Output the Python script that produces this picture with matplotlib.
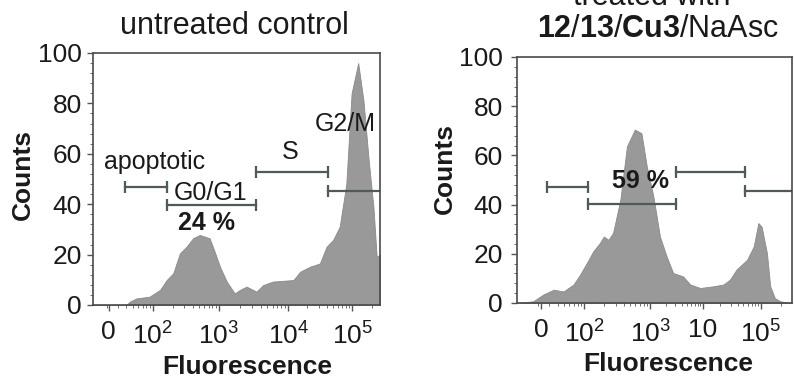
import numpy as np
import matplotlib
matplotlib.use("Agg")
import matplotlib.pyplot as plt
from matplotlib.ticker import FixedLocator, MultipleLocator

plt.rcParams['font.family'] = ['Liberation Sans', 'DejaVu Sans']
plt.rcParams['mathtext.fontset'] = 'custom'
plt.rcParams['mathtext.rm'] = 'Liberation Sans'
plt.rcParams['mathtext.bf'] = 'Liberation Sans:bold'
plt.rcParams['mathtext.it'] = 'Liberation Sans:italic'

# x is in "display decades" of the biexponential axis (10^2 -> 2, 10^3 -> 3 ...)
ctrl_x = [1.095, 1.60, 1.65, 1.75, 1.95, 2.11, 2.21, 2.31, 2.41, 2.51, 2.61, 2.71,
          2.86, 2.91, 3.02, 3.12, 3.24, 3.32, 3.42, 3.57, 3.67, 3.82, 4.13, 4.23,
          4.38, 4.53, 4.63, 4.73, 4.83, 4.93, 5.01, 5.11, 5.19, 5.27, 5.34, 5.39, 5.44]
ctrl_counts = [0, 0, 1.3, 2.6, 3.3, 6, 9.9, 12.6, 20.5, 23.1, 26.5, 27.8,
               26.5, 23.1, 15, 9.3, 4.6, 6, 7.3, 5.3, 7.9, 9.3, 9.9, 13.2,
               15.2, 16.5, 23.1, 25.8, 31.1, 48, 84, 96, 81, 57, 39, 19, 20]

trt_x = [1.035, 1.26, 1.41, 1.57, 1.72, 1.87, 1.97, 2.10, 2.17, 2.27, 2.33, 2.40,
         2.47, 2.58, 2.68, 2.80, 2.90, 2.98, 3.08, 3.18, 3.28, 3.38, 3.53, 3.64,
         3.79, 3.99, 4.14, 4.24, 4.34, 4.50, 4.60, 4.67, 4.72, 4.80, 4.85, 4.92,
         5.00, 5.17]
trt_counts = [0, 0.7, 3.4, 5.4, 4.7, 7.5, 11.5, 17.6, 21, 24.4, 27, 25.7,
              28.5, 42, 63.7, 70.5, 69, 55.6, 43.4, 27, 19, 12.2, 10.8, 7.5,
              6.1, 6.8, 7.5, 9.5, 13.6, 17.6, 23, 32.5, 31, 20.3, 6.8, 2,
              0.7, 0]

# gates: apoptotic, G0/G1, S, G2/M
ctrl_gate_x0 = [1.58, 2.21, 3.56, 4.65]
ctrl_gate_x1 = [2.21, 3.56, 4.65, 5.44]
ctrl_gate_y = [47, 39.5, 52.8, 45.2]
trt_gate_x0 = [1.47, 2.09, 3.42, 4.47]
trt_gate_x1 = [2.09, 3.42, 4.47, 5.18]
trt_gate_y = [47.2, 40.2, 53.1, 45.6]

ctrl_ticks = [1.33, 2, 3, 4.05, 5.02]
ctrl_ticklabels = ['0', '$10^2$', '$10^3$', '$10^4$', '$10^5$']
trt_ticks = [1.38, 2.03, 3.03, 3.83, 4.71]
trt_ticklabels = ['0', '$10^2$', '$10^3$', '10', '$10^5$']

FILL = '#999999'
GATE = '#4f5a5a'
TXT = '#1a1a1a'


def minor_ticks(major, lo, hi):
    out = []
    for a, b in zip(major[1:-1], major[2:]):
        out += [a + (b - a) * np.log10(k) for k in range(2, 10)]
    step = major[2] - major[1]
    b = major[1]
    out += [b - step + step * np.log10(k) for k in range(2, 10)]
    last = major[-1]
    out += [last + step * np.log10(k) for k in range(2, 10)]
    return [t for t in out if lo < t < hi]


def draw_panel(ax, x, counts, gx0, gx1, gy, ticks, ticklabels, xlim):
    ax.fill_between(x, counts, color=FILL, edgecolor='#8a8a8a', lw=0.6)
    for i in range(len(gy)):
        last = (i == len(gy) - 1)
        ax.plot([gx0[i], gx1[i]], [gy[i], gy[i]], color=GATE, lw=1.6,
                marker='|', markersize=8, markeredgewidth=1.6,
                markevery=[0] if last else [0, 1])
    ax.set_xlim(xlim)
    ax.set_ylim(0, 100)
    ax.xaxis.set_major_locator(FixedLocator(ticks))
    ax.set_xticklabels(ticklabels)
    ax.xaxis.set_minor_locator(FixedLocator(minor_ticks(ticks, xlim[0], xlim[1])))
    ax.yaxis.set_major_locator(MultipleLocator(20))
    ax.yaxis.set_minor_locator(MultipleLocator(4))
    ax.tick_params(axis='both', which='major', labelsize=19, colors='#555555',
                   labelcolor=TXT, width=1.0)
    ax.tick_params(axis='x', which='major', length=4, pad=8.5)
    ax.tick_params(axis='x', which='minor', length=2.5, color='#555555')
    ax.tick_params(axis='y', which='major', length=4, pad=4)
    ax.tick_params(axis='y', which='minor', length=2.5, color='#555555')
    # plain labels sit differently from the mathtext ones: line up the digits
    for tick, lab in zip(ax.xaxis.get_major_ticks(), ticklabels):
        if '$' not in lab:
            tick.set_pad(7.0)
    for s in ['left', 'bottom', 'top', 'right']:
        ax.spines[s].set_color('#4a4a4a')
        ax.spines[s].set_linewidth(1.2)
    ax.set_xlabel('Fluorescence', fontsize=19, fontweight='bold', color=TXT)
    ax.set_ylabel('Counts', fontsize=19, fontweight='bold', color=TXT)


fig = plt.figure(figsize=(7.94, 3.78), dpi=100)
ax1 = fig.add_axes([93 / 794, 73 / 378, 287 / 794, 252 / 378])
ax2 = fig.add_axes([517 / 794, 75 / 378, 275 / 794, 246 / 378])

draw_panel(ax1, ctrl_x, ctrl_counts, ctrl_gate_x0, ctrl_gate_x1, ctrl_gate_y,
           ctrl_ticks, ctrl_ticklabels, (1.095, 5.44))
draw_panel(ax2, trt_x, trt_counts, trt_gate_x0, trt_gate_x1, trt_gate_y,
           trt_ticks, trt_ticklabels, (1.015, 5.18))

ax1.xaxis.set_label_coords(0.537, -0.198)
ax1.yaxis.set_label_coords(-0.202, 0.516)
ax2.xaxis.set_label_coords(0.549, -0.198)
ax2.yaxis.set_label_coords(-0.218, 0.545)
ax2.tick_params(axis='y', which='major', pad=6)

# gate labels
ax1.text(2.02, 56.7, 'apoptotic', fontsize=18, color=TXT, ha='center', va='center')
ax1.text(2.88, 44.4, 'G0/G1', fontsize=18, color=TXT, ha='center', va='center')
ax1.text(2.82, 32.5, '24 %', fontsize=18, fontweight='bold', color=TXT,
         ha='center', va='center')
ax1.text(4.08, 60.7, 'S', fontsize=18, color=TXT, ha='center', va='center')
ax1.text(4.91, 72, 'G2/M', fontsize=18, color=TXT, ha='center', va='center')
ax2.text(2.88, 49.4, '59 %', fontsize=18, fontweight='bold', color=TXT,
         ha='center', va='center')

# titles
fig.text(234 / 794, 1 - 34 / 378, 'untreated control', fontsize=22, color=TXT,
         ha='center', va='baseline')
fig.text(652 / 794, 1 - 5 / 378, 'treated with', fontsize=22, color=TXT,
         ha='center', va='baseline')
fig.text(658 / 794, 1 - 37 / 378,
         r'$\mathbf{12}$/$\mathbf{13}$/$\mathbf{Cu3}$/NaAsc', fontsize=22,
         color=TXT, ha='center', va='baseline')

fig.savefig('out.png', dpi=100)
